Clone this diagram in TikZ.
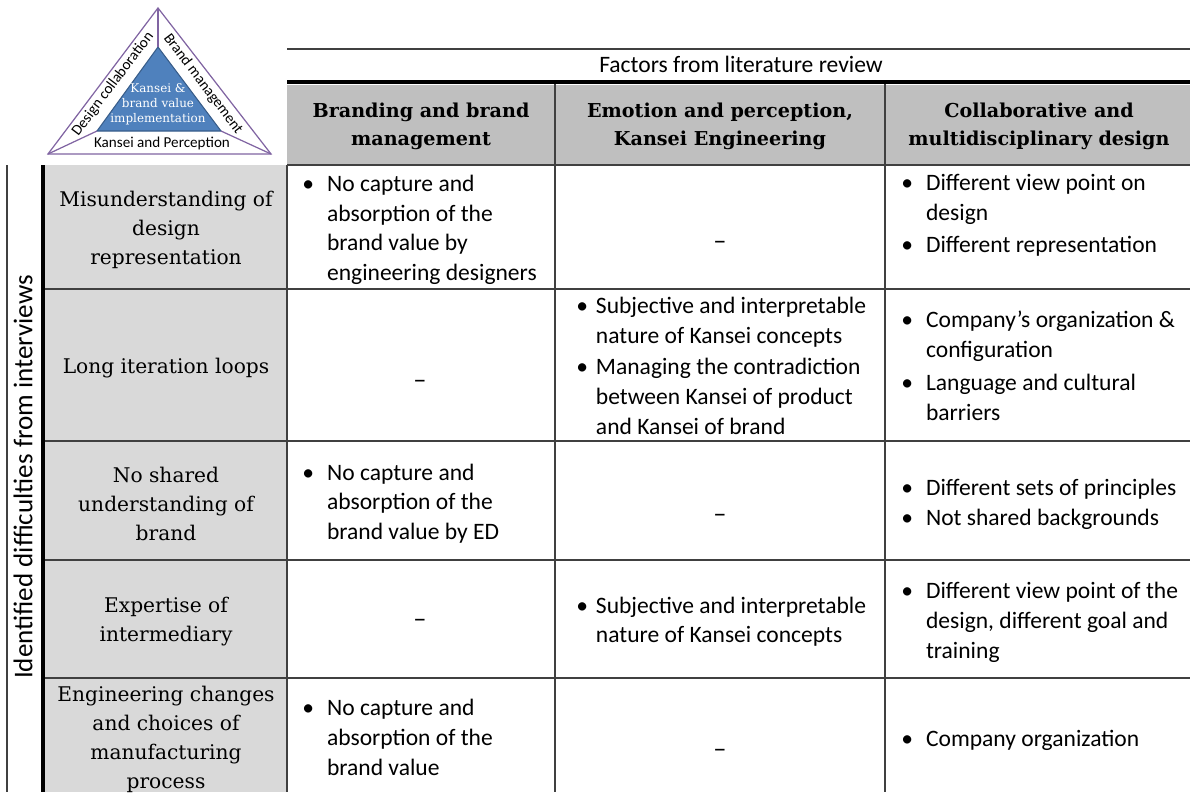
\documentclass[tikz,border=0pt]{standalone}
\usepackage{fontspec}
\setmainfont{DejaVu Serif}
\newfontfamily\bodysans{Carlito}
\usepackage{tikz}
\usetikzlibrary{positioning}
\definecolor{hdrgray}{HTML}{BFBFBF}
\definecolor{labgray}{HTML}{D9D9D9}
\definecolor{gridline}{HTML}{404040}
\definecolor{tripurple}{HTML}{8064A2}
\definecolor{triblue}{HTML}{4F81BD}
\definecolor{triedge}{HTML}{385D8A}
% bullet list with fixed line breaks
\newcommand{\blist}[2][7.4pt]{\begin{tabular}{@{}l@{\hspace{#1}}l@{}}#2\end{tabular}}

\begin{document}
\begin{tikzpicture}[x=0.02cm,y=-0.02cm,
  body/.style={font=\bodysans\fontsize{13.4}{17}\selectfont, inner sep=0pt, anchor=west, yshift=-1.4pt},
  dashcell/.style={font=\bodysans\fontsize{15}{17}\selectfont, inner sep=0pt, yshift=-3.5pt},
  rowlab/.style={font=\fontsize{11.5}{16.4}\selectfont, align=center, inner sep=0pt, yshift=-1.4pt},
  colhead/.style={font=\bfseries\fontsize{10.9}{16.4}\selectfont, align=center, inner sep=0pt, yshift=-1.1pt},
  grid/.style={draw=gridline, line width=0.9pt},
  tri/.style={draw=tripurple, line width=0.7pt},
  tritext/.style={font=\bodysans\fontsize{8.6}{10}\selectfont, inner sep=0pt}]
\useasboundingbox (0,0) rectangle (1190,792);
\clip (0,0) rectangle (1190,792);

% Shaded cells
\fill[hdrgray] (287,85) rectangle (1190,165);
\fill[labgray] (44,165) rectangle (287,792);

% Rules
\draw[gridline, line width=0.9pt] (287,49) -- (1190,49);
\draw[line width=2.8pt] (287,82) -- (1190,82);
\draw[grid] (287,165) -- (1190,165);
\foreach \y in {289,441,560,678}
  \draw[grid] (44,\y) -- (1190,\y);
\foreach \x in {555,885}
  \draw[grid] (\x,84) -- (\x,792);
\draw[grid] (287,165) -- (287,792);
\draw[grid] (7,165) -- (7,792);
\draw[line width=2.3pt] (43,165) -- (43,792);

% Triangle
\coordinate (tA) at (158,8);
\coordinate (tB) at (48,154);
\coordinate (tC) at (271,154);
\coordinate (iA) at (158,47);
\coordinate (iB) at (97,131);
\coordinate (iC) at (221,131);
\filldraw[fill=triblue, draw=triedge, line width=0.6pt] (iA) -- (iB) -- (iC) -- cycle;
\draw[tri] (tA) -- (tB) -- (tC) -- cycle;
\draw[tri] (tA) -- (iA);
\draw[tri] (tB) -- (iB);
\draw[tri] (tC) -- (iC);
\node[tritext, rotate=53] (design) at (113,84) {Design collaboration};
\node[tritext, rotate=-53] (brandm) at (203,84) {Brand management};
\node[tritext] (kansp) at (162,143) {Kansei and Perception};
\node[font=\fontsize{6.8}{8.5}\selectfont, text=white, align=center, inner sep=0pt]
  (core) at (158,104) {Kansei \&\\brand value\\implementation};

% Headers
\node[font=\bodysans\fontsize{13.4}{17}\selectfont, inner sep=0pt] (factors) at (741,64) {Factors from literature review};
\node[colhead] (hdr1) at (421,124.5) {Branding and brand\\management};
\node[colhead] (hdr2) at (720,124.5) {Emotion and perception,\\Kansei Engineering};
\node[colhead] (hdr3) at (1039,124.5) {Collaborative and\\multidisciplinary design};
\node[font=\bodysans\fontsize{15.4}{18}\selectfont, rotate=90, inner sep=0pt]
  (ident) at (23,477) {Identified difficulties from interviews};

% Row labels
\node[rowlab] (lab1) at (166,227.5) {Misunderstanding of\\design\\representation};
\node[rowlab] (lab2) at (166,366) {Long iteration loops};
\node[rowlab] (lab3) at (166,501.5) {No shared\\understanding of\\brand};
\node[rowlab] (lab4) at (166,619.5) {Expertise of\\intermediary};
\node[rowlab] (lab5) at (166,737) {Engineering changes\\and choices of\\manufacturing\\process};

% Row 1
\node[body] (c11) at (302,227.5) {\blist{\textbullet & No capture and\\ & absorption of the\\ & brand value by\\ & engineering designers}};
\node[dashcell] (c12) at (720,239) {–};
\node[body] (c13) at (901,213) {\blist{\textbullet & Different view point on\\ & design\\[1pt] \textbullet & Different representation}};

% Row 2
\node[dashcell] (c21) at (420,378) {–};
\node[body] (c22) at (576,365.5) {\blist[4.5pt]{\textbullet & Subjective and interpretable\\ & nature of Kansei concepts\\[1pt] \textbullet & Managing the contradiction\\ & between Kansei of product\\ & and Kansei of brand}};
\node[body] (c23) at (901,365.5) {\blist{\textbullet & Company’s organization \&\\ & configuration\\[1.5pt] \textbullet & Language and cultural\\ & barriers}};

% Row 3
\node[body] (c31) at (302,501.5) {\blist{\textbullet & No capture and\\ & absorption of the\\ & brand value by ED}};
\node[dashcell] (c32) at (720,512) {–};
\node[body] (c33) at (901,502) {\blist{\textbullet & Different sets of principles\\ \textbullet & Not shared backgrounds}};

% Row 4
\node[dashcell] (c41) at (420,617) {–};
\node[body] (c42) at (576,619.5) {\blist[4.5pt]{\textbullet & Subjective and interpretable\\ & nature of Kansei concepts}};
\node[body] (c43) at (901,620) {\blist{\textbullet & Different view point of the\\ & design, different goal and\\ & training}};

% Row 5
\node[body] (c51) at (302,737) {\blist{\textbullet & No capture and\\ & absorption of the\\ & brand value}};
\node[dashcell] (c52) at (720,747) {–};
\node[body] (c53) at (901,738) {\blist{\textbullet & Company organization}};
\end{tikzpicture}
\end{document}
